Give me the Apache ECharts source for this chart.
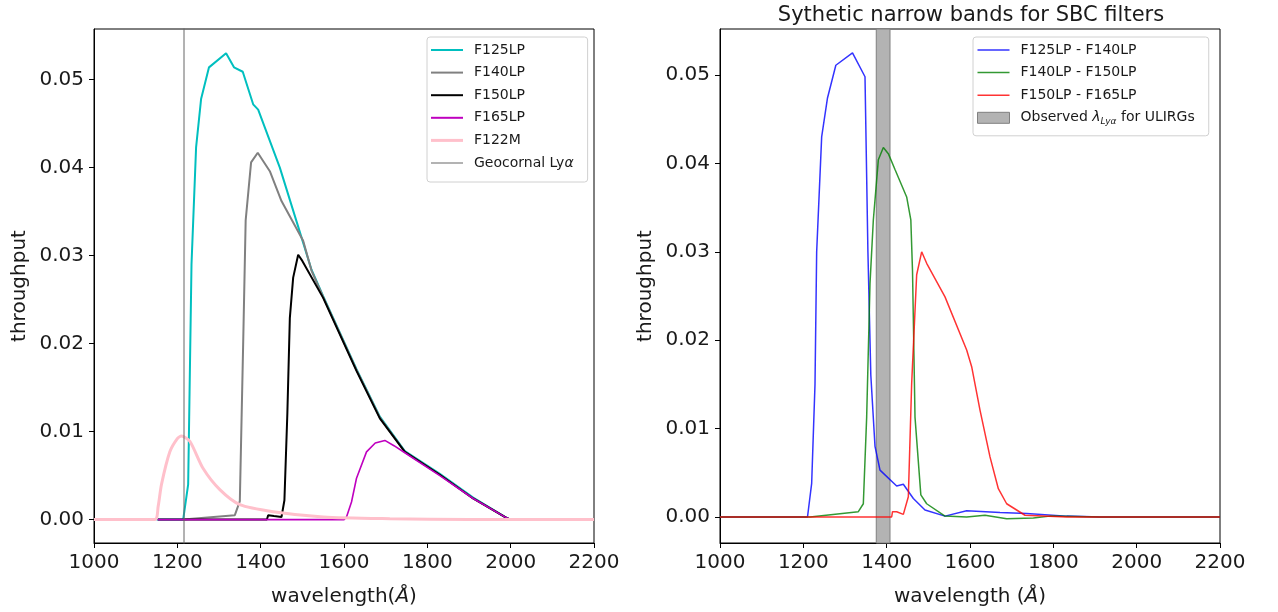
<!DOCTYPE html>
<html>
<head>
<meta charset="utf-8">
<script src="https://cdn.jsdelivr.net/npm/echarts@6/dist/echarts.min.js"></script>
<style>html,body{margin:0;background:#fff}#chart{width:1278px;height:612px}</style>
</head>
<body>
<div id="chart"></div>
<script>
// tick values
const xTicks = [1000, 1200, 1400, 1600, 1800, 2000, 2200]
const yTicks = [0, 0.01, 0.02, 0.03, 0.04, 0.05]

// left panel: filter throughputs
const f125Wl = [1150, 1214, 1226, 1234, 1245, 1257, 1276, 1317, 1336, 1357, 1382, 1394, 1420, 1446, 1490, 1522, 1550, 1630, 1686, 1746, 1830, 1910, 1990, 2000]
const f125Tp = [0, 0, 0.004, 0.029, 0.0423, 0.0478, 0.0514, 0.0530, 0.0514, 0.0509, 0.0472, 0.0466, 0.0433, 0.0400, 0.0333, 0.0284, 0.0254, 0.0171, 0.0117, 0.0078, 0.0052, 0.0025, 0.0002, 0]
const f140Wl = [1214, 1338, 1350, 1358, 1364, 1377, 1393, 1422, 1450, 1502, 1522, 1550, 1630, 1686, 1746, 1830, 1910, 1990, 2000]
const f140Tp = [0, 0.0005, 0.0021, 0.020, 0.034, 0.0406, 0.0417, 0.0396, 0.0362, 0.0317, 0.0283, 0.0253, 0.0170, 0.0116, 0.0077, 0.0051, 0.0024, 0.0002, 0]
const f150Wl = [1153, 1415, 1418, 1432, 1450, 1457, 1464, 1470, 1478, 1490, 1500, 1550, 1630, 1686, 1746, 1830, 1910, 1990, 2000]
const f150Tp = [0, 0, 0.0005, 0.0004, 0.0003, 0.0022, 0.012, 0.0229, 0.0275, 0.0301, 0.0294, 0.0252, 0.0169, 0.0115, 0.0077, 0.0051, 0.0024, 0.0002, 0]
const f165Wl = [1153, 1600, 1606, 1618, 1630, 1654, 1675, 1698, 1720, 1746, 1830, 1910, 1990, 2000]
const f165Tp = [0, 0, 0.0003, 0.002, 0.0047, 0.0077, 0.0087, 0.0090, 0.0084, 0.0076, 0.0050, 0.0024, 0.0002, 0]
const f122Wl = [1000, 1146, 1154, 1162, 1182, 1200, 1210, 1230, 1262, 1302, 1350, 1430, 1550, 1710, 1900, 2200]
const f122Tp = [0, 0, 0.0015, 0.004, 0.0077, 0.0092, 0.0095, 0.0089, 0.0058, 0.0034, 0.0017, 0.0009, 0.0003, 0.0001, 0, 0]
const lyaGeo = 1216

// right panel: synthetic narrow bands
const blueWl = [1000, 1210, 1220, 1228, 1232, 1244, 1258, 1278, 1318, 1348, 1355, 1362, 1372, 1384, 1424, 1440, 1464, 1492, 1540, 1592, 1672, 1736, 1832, 1912, 2200]
const blueTp = [0, 0, 0.0038, 0.015, 0.030, 0.043, 0.0474, 0.0511, 0.0525, 0.0498, 0.030, 0.016, 0.008, 0.0053, 0.0035, 0.0037, 0.0021, 0.0008, 0.0001, 0.0007, 0.0005, 0.0004, 0.0001, 0, 0]
const greenWl = [1000, 1216, 1332, 1344, 1352, 1360, 1368, 1380, 1392, 1404, 1420, 1448, 1458, 1462, 1468, 1482, 1496, 1540, 1592, 1636, 1688, 1752, 1792, 1912, 2200]
const greenTp = [0, 0, 0.0006, 0.0015, 0.0113, 0.0264, 0.0336, 0.0404, 0.0418, 0.0411, 0.0393, 0.0362, 0.0336, 0.0279, 0.0113, 0.0025, 0.0015, 0.0001, 0, 0.0002, -0.0002, -0.0001, 0.0001, 0, 0]
const redWl = [1000, 1412, 1414, 1424, 1440, 1452, 1460, 1472, 1484, 1496, 1540, 1592, 1604, 1624, 1648, 1668, 1688, 1732, 1832, 2200]
const redTp = [0, 0, 0.0006, 0.0006, 0.0003, 0.0023, 0.0151, 0.0274, 0.0300, 0.0287, 0.0249, 0.0189, 0.0170, 0.0121, 0.0068, 0.0032, 0.0015, 0.0002, 0, 0]
const lyaBand = [1375, 1408]

const pts = (wl, tp) => wl.map((w, i) => [w, tp[i]])
const FONT = 'DejaVu Sans'
const TXT = '#1a1a1a'
// legend line samples (kept to aspect inside the icon box)
const lineIcon = h => 'path://M0,0H32V' + h + 'H0Z'

function xAx(grid, name) {
  return {
    type: 'value', gridIndex: grid, min: xTicks[0], max: xTicks[xTicks.length - 1], interval: 200,
    name: name, nameLocation: 'middle', nameGap: 44,
    nameTextStyle: { fontFamily: FONT, fontSize: 20, color: TXT, rich: { i: { fontFamily: FONT, fontSize: 20, fontStyle: 'italic', color: TXT } } },
    axisLine: { onZero: false, lineStyle: { color: '#000', width: 1 } },
    axisTick: { inside: false, length: 5, lineStyle: { color: '#000' } },
    axisLabel: { fontFamily: FONT, fontSize: 20, color: TXT, margin: 10, formatter: v => String(v) },
    splitLine: { show: false }
  }
}
function yAx(grid, min, max) {
  return {
    type: 'value', gridIndex: grid, min: min, max: max,
    name: 'throughput', nameLocation: 'middle', nameRotate: 90, nameGap: 64,
    nameTextStyle: { fontFamily: FONT, fontSize: 20, color: TXT },
    axisLine: { show: true, lineStyle: { color: '#000', width: 1 } },
    axisTick: { show: true, length: 5, customValues: yTicks, lineStyle: { color: '#000' } },
    axisLabel: { fontFamily: FONT, fontSize: 20, color: TXT, margin: 10, customValues: yTicks, formatter: v => v.toFixed(2) },
    splitLine: { show: false }
  }
}
function line(name, xi, data, color, width, opacity) {
  return {
    name: name, type: 'line', xAxisIndex: xi, yAxisIndex: xi, data: data,
    symbol: 'none', animation: false, clip: true,
    itemStyle: { color: color, opacity: opacity == null ? 1 : opacity },
    lineStyle: { color: color, width: width, opacity: opacity == null ? 1 : opacity }
  }
}

const chart = echarts.init(document.getElementById('chart'))
chart.setOption({
  animation: false,
  title: {
    text: 'Sythetic narrow bands for SBC filters', left: 966, top: 0, textAlign: 'center',
    textStyle: { fontFamily: FONT, fontSize: 21, fontWeight: 'normal', color: TXT }
  },
  grid: [
    { left: 94, top: 29, width: 500, height: 514, show: true, borderColor: '#000', borderWidth: 1 },
    { left: 720, top: 29, width: 500, height: 514, show: true, borderColor: '#000', borderWidth: 1 }
  ],
  xAxis: [xAx(0, 'wavelength({i|Å})'), xAx(1, 'wavelength ({i|Å})')],
  yAxis: [yAx(0, -0.00266, 0.05576), yAx(1, -0.00294, 0.0552)],
  legend: [
    {
      left: 427, top: 37, orient: 'vertical', itemWidth: 32, itemHeight: 14, itemGap: 8.6,
      padding: [6, 14, 12, 4], borderColor: '#d0d0d0', borderWidth: 1, borderRadius: 3,
      backgroundColor: 'rgba(255,255,255,0.8)',
      textStyle: { fontFamily: FONT, fontSize: 14, color: TXT, padding: [0, 0, 0, 6], rich: { g: { fontFamily: FONT, fontSize: 14, fontStyle: 'italic', color: TXT } } },
      formatter: n => n === 'Geocornal Lyα' ? 'Geocornal Ly{g|α}' : n,
      data: [
        { name: 'F125LP', icon: lineIcon(2) },
        { name: 'F140LP', icon: lineIcon(2) },
        { name: 'F150LP', icon: lineIcon(2) },
        { name: 'F165LP', icon: lineIcon(2) },
        { name: 'F122M', icon: lineIcon(3) },
        { name: 'Geocornal Lyα', icon: lineIcon(1) }
      ]
    },
    {
      left: 973, top: 37, orient: 'vertical', itemWidth: 32, itemHeight: 14, itemGap: 8.6,
      padding: [6, 14, 10, 4], borderColor: '#d0d0d0', borderWidth: 1, borderRadius: 3,
      backgroundColor: 'rgba(255,255,255,0.8)',
      textStyle: { fontFamily: FONT, fontSize: 14, color: TXT, padding: [0, 0, 0, 6],
        rich: {
          l: { fontFamily: FONT, fontSize: 14, fontStyle: 'italic', color: TXT },
          s: { fontFamily: FONT, fontSize: 9, fontStyle: 'italic', color: TXT, padding: [7, 0, 0, 0] },
          t: { fontFamily: FONT, fontSize: 14, color: TXT }
        } },
      formatter: n => n.indexOf('Observed') === 0 ? '{t|Observed }{l|λ}{s|Lyα}{t| for ULIRGs}' : n,
      data: [
        { name: 'F125LP - F140LP', icon: lineIcon(1.5) },
        { name: 'F140LP - F150LP', icon: lineIcon(1.5) },
        { name: 'F150LP - F165LP', icon: lineIcon(1.5) },
        { name: 'Observed λLyα for ULIRGs', icon: 'path://M0,0H32V11H0Z', itemStyle: { color: '#b3b3b3', borderColor: '#808080', borderWidth: 1 } }
      ]
    }
  ],
  series: [
    line('F125LP', 0, pts(f125Wl, f125Tp), '#00bfbf', 2),
    line('F140LP', 0, pts(f140Wl, f140Tp), '#808080', 2),
    line('F150LP', 0, pts(f150Wl, f150Tp), '#000000', 2),
    line('F165LP', 0, pts(f165Wl, f165Tp), '#bf00bf', 1.6),
    Object.assign(line('F122M', 0, pts(f122Wl, f122Tp), '#ffc0cb', 3), { smooth: 0.25 }),
    line('Geocornal Lyα', 0, [[lyaGeo, -0.01], [lyaGeo, 0.1]], '#666666', 1),
    {
      name: 'Observed λLyα for ULIRGs', type: 'line', xAxisIndex: 1, yAxisIndex: 1, data: [],
      itemStyle: { color: '#b3b3b3' },
      markArea: {
        silent: true,
        itemStyle: { color: '#b3b3b3', borderColor: '#808080', borderWidth: 1 },
        data: [[{ xAxis: lyaBand[0] }, { xAxis: lyaBand[1] }]]
      }
    },
    line('F125LP - F140LP', 1, pts(blueWl, blueTp), '#0000ff', 1.5, 0.8),
    line('F140LP - F150LP', 1, pts(greenWl, greenTp), '#008000', 1.5, 0.8),
    line('F150LP - F165LP', 1, pts(redWl, redTp), '#ff0000', 1.5, 0.8)
  ]
})
</script>
</body>
</html>
